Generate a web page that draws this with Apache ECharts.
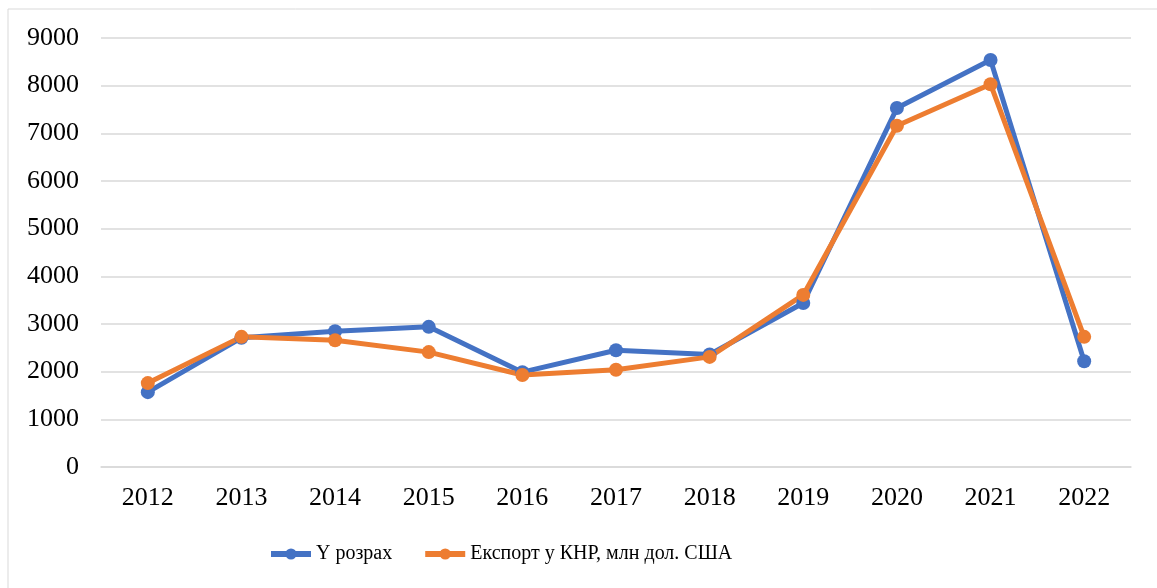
<!DOCTYPE html>
<html>
<head>
<meta charset="utf-8">
<script src="https://cdn.jsdelivr.net/npm/echarts@6/dist/echarts.min.js"></script>
<style>
  html, body { margin: 0; padding: 0; background: #ffffff; }
  #chart { width: 1157px; height: 588px; }
</style>
</head>
<body>
<div id="chart"></div>
<script>
  // роки
  const years = ['2012', '2013', '2014', '2015', '2016', '2017', '2018', '2019', '2020', '2021', '2022'];
  // Y розрах
  const yCalc = [1570, 2710, 2850, 2940, 1990, 2450, 2360, 3440, 7530, 8540, 2220];
  // Експорт у КНР, млн дол. США
  const exportChina = [1760, 2730, 2660, 2410, 1930, 2040, 2310, 3610, 7160, 8030, 2730];

  const font = '"Liberation Serif", "Times New Roman", serif';

  const chart = echarts.init(document.getElementById('chart'));
  chart.setOption({
    animation: false,
    textStyle: { fontFamily: font },
    graphic: [{
      type: 'rect',
      shape: { x: 8, y: 9, width: 1160, height: 600 },
      style: { fill: 'none', stroke: '#d9d9d9', lineWidth: 1 },
      z: -1
    }],
    grid: { left: 101, right: 26, top: 38, bottom: 121 },
    legend: {
      top: 544,
      left: 268,
      padding: 0,
      itemWidth: 40,
      itemHeight: 14,
      itemGap: 30,
      lineStyle: { width: 6 },
      textStyle: { fontFamily: font, fontSize: 20, color: '#000' },
      data: ['Y розрах', 'Експорт у КНР, млн дол. США']
    },
    xAxis: {
      type: 'category',
      data: years,
      boundaryGap: true,
      axisLine: { lineStyle: { color: '#d9d9d9', width: 1.5 } },
      axisTick: { show: false },
      axisLabel: { color: '#000', fontSize: 26, margin: 18, fontFamily: font }
    },
    yAxis: {
      type: 'value',
      min: 0,
      max: 9000,
      interval: 1000,
      axisLine: { show: false },
      axisTick: { show: false },
      axisLabel: {
        color: '#000', fontSize: 26, margin: 22, fontFamily: font,
        formatter: v => String(v)
      },
      splitLine: { lineStyle: { color: '#d9d9d9', width: 1.5 } }
    },
    series: [
      {
        name: 'Y розрах',
        type: 'line',
        data: yCalc,
        symbol: 'circle',
        symbolSize: 14,
        lineStyle: { color: '#4472C4', width: 5 },
        itemStyle: { color: '#4472C4' }
      },
      {
        name: 'Експорт у КНР, млн дол. США',
        type: 'line',
        data: exportChina,
        symbol: 'circle',
        symbolSize: 14,
        lineStyle: { color: '#ED7D31', width: 5 },
        itemStyle: { color: '#ED7D31' }
      }
    ]
  });
</script>
</body>
</html>
